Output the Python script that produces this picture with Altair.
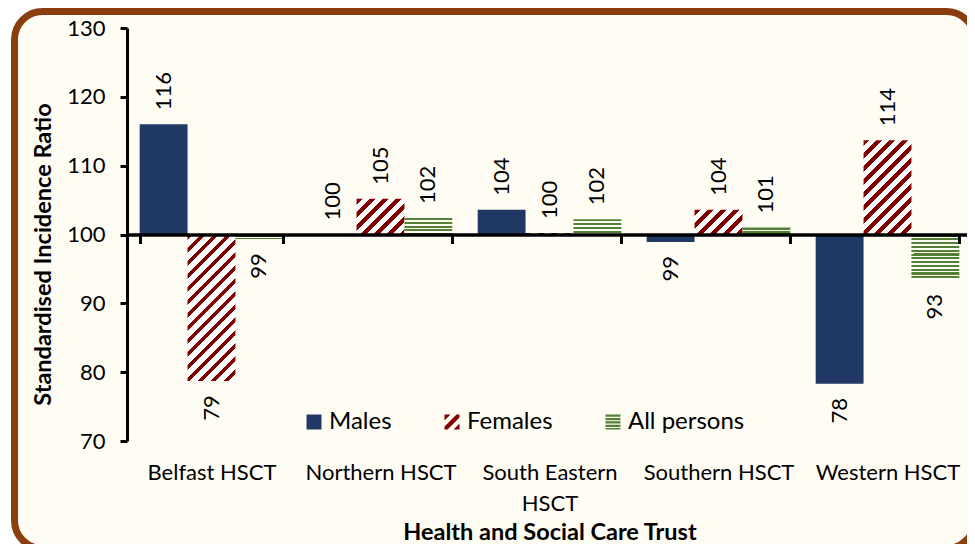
import altair as alt

# ---------------- data ----------------
categories = ["Belfast HSCT", "Northern HSCT", "South Eastern HSCT", "Southern HSCT", "Western HSCT"]
series = ["Males", "Females", "All persons"]
males = [116.0, 100.0, 103.6, 98.9, 78.3]
females = [78.7, 105.2, 100.2, 103.6, 113.7]
all_persons = [99.3, 102.4, 102.2, 101.0, 93.4]
baseline = 100
y_ticks = [70, 80, 90, 100, 110, 120, 130]

# ---------------- style ----------------
NAVY = "#203864"
RED = "#800000"
GREEN = "#538135"
CREAM = "#FFFCF4"
BROWN = "#8A3E10"
FONT = "Lato"

W, H = 845, 413
Y_MIN, Y_MAX = 70, 130
PAD_INNER = 0.15
sub_w = W / len(categories) * (1 - PAD_INNER) / len(series)
px_per_unit = H / (Y_MAX - Y_MIN)


def diag_fill(h, w, color, period=13.0, frac=0.45):
    """45-degree '/' hatch as a hard-stop linear gradient in bbox units."""
    total = w + h
    a = total / (w * w + h * h)
    stops = []
    k = 0
    while k * period < total:
        s0 = k * period
        s1 = min(s0 + frac * period, total)
        s2 = min((k + 1) * period, total)
        for p, c in [(s0, color), (s1, color), (s1, "#FFFFFF"), (s2, "#FFFFFF")]:
            stops.append({"offset": round(p / total, 5), "color": c})
        k += 1
    return {"gradient": "linear", "x1": 0, "y1": 0, "x2": a * w, "y2": a * h, "stops": stops}


def hstripe_fill(h, color, period=3.8, frac=0.55):
    """Horizontal line pattern as a hard-stop vertical gradient."""
    h = max(h, 0.5)
    stops = []
    k = 0
    while k * period < h:
        s0 = k * period
        s1 = min(s0 + frac * period, h)
        s2 = min((k + 1) * period, h)
        for p, c in [(s0, color), (s1, color), (s1, CREAM), (s2, CREAM)]:
            stops.append({"offset": round(p / h, 5), "color": c})
        k += 1
    return {"gradient": "linear", "x1": 0, "y1": 0, "x2": 0.0001, "y2": 1, "stops": stops}


records = []
for i, cat in enumerate(categories):
    for s, vals in zip(series, [males, females, all_persons]):
        v = vals[i]
        h = abs(v - baseline) * px_per_unit
        if s == "Males":
            fill = NAVY
        elif s == "Females":
            fill = diag_fill(h, sub_w, RED)
        else:
            fill = hstripe_fill(h, GREEN)
        records.append({"trust": cat, "series": s, "value": v, "fill": fill})

base = alt.Chart(alt.Data(values=records))

x_enc = alt.X(
    "trust:N",
    sort=categories,
    scale=alt.Scale(paddingInner=PAD_INNER, paddingOuter=PAD_INNER / 2),
    axis=alt.Axis(
        title="Health and Social Care Trust",
        orient="bottom",
        offset=-H / 2,
        domainColor="black",
        domainWidth=3.5,
        tickBand="extent",
        tickColor="black",
        tickWidth=3,
        tickSize=9,
        labelPadding=219,
        labelFont=FONT,
        labelFontSize=22,
        labelColor="black",
        labelAngle=0,
        labelBaseline="top",
        labelLineHeight=31,
        labelOverlap=False,
        labelExpr="datum.label == 'South Eastern HSCT' ? ['South Eastern', 'HSCT'] : datum.label",
        titleFont=FONT,
        titleFontSize=23.5,
        titleFontWeight="bold",
        titleColor="black",
        titleBaseline="top",
        titleY=286,
        grid=False,
        zindex=1,
    ),
)
xoff = alt.XOffset("series:N", sort=series, scale=alt.Scale(paddingInner=0, paddingOuter=0))
y_enc = alt.Y(
    "value:Q",
    stack=None,
    scale=alt.Scale(domain=[Y_MIN, Y_MAX], nice=False, zero=False),
    axis=alt.Axis(
        title="Standardised Incidence Ratio",
        values=y_ticks,
        domainColor="black",
        domainWidth=3,
        tickColor="black",
        tickWidth=3,
        tickSize=7,
        labelPadding=15,
        labelFont=FONT,
        labelFontSize=22,
        labelColor="black",
        titleFont=FONT,
        titleFontSize=23.5,
        titleFontWeight="bold",
        titleColor="black",
        titlePadding=11,
        titleY=226,
        grid=False,
        zindex=1,
    ),
)

frame = alt.Chart(alt.Data(values=[{"frame": 1}])).mark_rect(
    cornerRadius=28, fill=CREAM, stroke=BROWN, strokeWidth=7
).encode(
    x=alt.value(-112.5), x2=alt.value(847.5), y=alt.value(-16.5), y2=alt.value(520.5)
)

bars = base.mark_bar().encode(
    x=x_enc,
    xOffset=xoff,
    y=y_enc,
    y2=alt.datum(baseline),
    fill=alt.Fill("fill:N", scale=None),
)

txt = dict(x=x_enc, xOffset=xoff, y=y_enc, text=alt.Text("value:Q", format=".0f"))
pos_labels = base.transform_filter("datum.value >= 100").mark_text(
    angle=270, align="left", baseline="middle", dx=14, font=FONT, fontSize=22, color="black"
).encode(**txt)
neg_labels = base.transform_filter("datum.value < 100").mark_text(
    angle=270, align="right", baseline="middle", dx=-14, font=FONT, fontSize=22, color="black"
).encode(**txt)

square = "M-1,-1H1V1H-1Z"
diag_icon = ("M-1,-1L-0.2,-1L-1,-0.2Z "
             "M0.6,-1L1,-1L1,-0.6L-0.6,1L-1,1L-1,0.6Z "
             "M1,0.2L1,1L0.2,1Z")
hline_icon = ("M-1,-1H1V-0.7H-1Z M-1,-0.55H1V-0.25H-1Z M-1,-0.1H1V0.2H-1Z "
              "M-1,0.35H1V0.65H-1Z M-1,0.8H1V1H-1Z")

leg = alt.Legend(
    title=None,
    orient="none",
    legendX=175,
    legendY=382,
    direction="horizontal",
    padding=0,
    symbolSize=225,
    symbolStrokeWidth=0,
    labelFont=FONT,
    labelFontSize=24,
    labelColor="black",
    labelOffset=3,
    columnPadding=48,
)
legend_pts = base.transform_filter("false").mark_point(filled=True, opacity=1, size=225).encode(
    color=alt.Color("series:N", scale=alt.Scale(domain=series, range=[NAVY, RED, GREEN]), legend=leg),
    shape=alt.Shape("series:N", scale=alt.Scale(domain=series, range=[square, diag_icon, hline_icon]), legend=leg),
)

chart = alt.layer(frame, bars, pos_labels, neg_labels, legend_pts).properties(
    width=W,
    height=H,
    autosize=alt.AutoSizeParams(type="none"),
    padding={"left": 119, "top": 20, "right": -5, "bottom": 103},
    background="white",
).configure_view(stroke=None).configure(font=FONT)

chart.save("out.html", embed_options={"renderer": "svg", "actions": False})
